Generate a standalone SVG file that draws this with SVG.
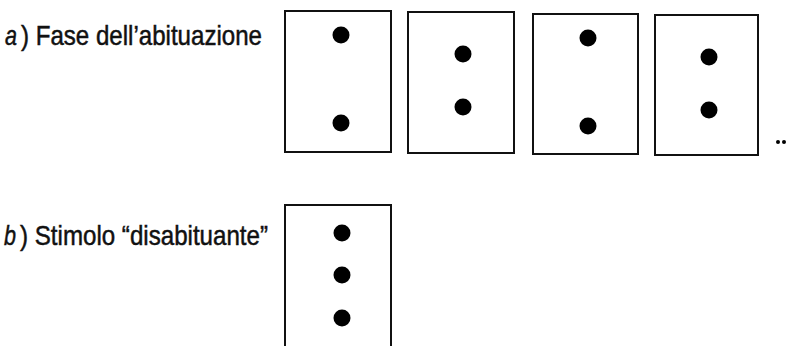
<svg xmlns="http://www.w3.org/2000/svg" width="786" height="346" viewBox="0 0 786 346">
<style>
.box{fill:#fff;stroke:#111;stroke-width:2}
.dot{fill:#000}
.lbl{font-family:"Liberation Sans Narrow","Liberation Sans",Arial,sans-serif;font-size:28px;fill:#111;stroke:#111;stroke-width:0.5}
.it{font-style:italic}
</style>
<rect width="786" height="346" fill="#fff"/>
<g id="label-a"><text class="lbl it" x="5" y="45" textLength="12" lengthAdjust="spacingAndGlyphs">a</text><text class="lbl" x="21" y="45" textLength="241" lengthAdjust="spacingAndGlyphs">) Fase dell’abituazione</text></g>
<g id="box-a1"><rect class="box" x="285" y="11" width="106" height="141"/><circle class="dot" cx="341" cy="35" r="8.5"/><circle class="dot" cx="341" cy="123" r="8.5"/></g>
<g id="box-a2"><rect class="box" x="408" y="12" width="106" height="141"/><circle class="dot" cx="463" cy="54" r="8.5"/><circle class="dot" cx="463" cy="107" r="8.5"/></g>
<g id="box-a3"><rect class="box" x="533" y="14" width="105" height="140"/><circle class="dot" cx="588" cy="38" r="8.5"/><circle class="dot" cx="588" cy="126" r="8.5"/></g>
<g id="box-a4"><rect class="box" x="655" y="15" width="103" height="140"/><circle class="dot" cx="709" cy="57" r="8.5"/><circle class="dot" cx="709" cy="110" r="8.5"/></g>
<g id="ellipsis"><circle class="dot" cx="778" cy="142" r="2"/><circle class="dot" cx="784" cy="142" r="2"/></g>
<g id="label-b"><text class="lbl it" x="4" y="245" textLength="12" lengthAdjust="spacingAndGlyphs">b</text><text class="lbl" x="20" y="245" textLength="248" lengthAdjust="spacingAndGlyphs">) Stimolo “disabituante”</text></g>
<g id="box-b"><rect class="box" x="285" y="205" width="106" height="150"/><circle class="dot" cx="342" cy="233" r="8.5"/><circle class="dot" cx="342" cy="275" r="8.5"/><circle class="dot" cx="342" cy="318" r="8.5"/></g>
<g id="connectors"/>
</svg>
